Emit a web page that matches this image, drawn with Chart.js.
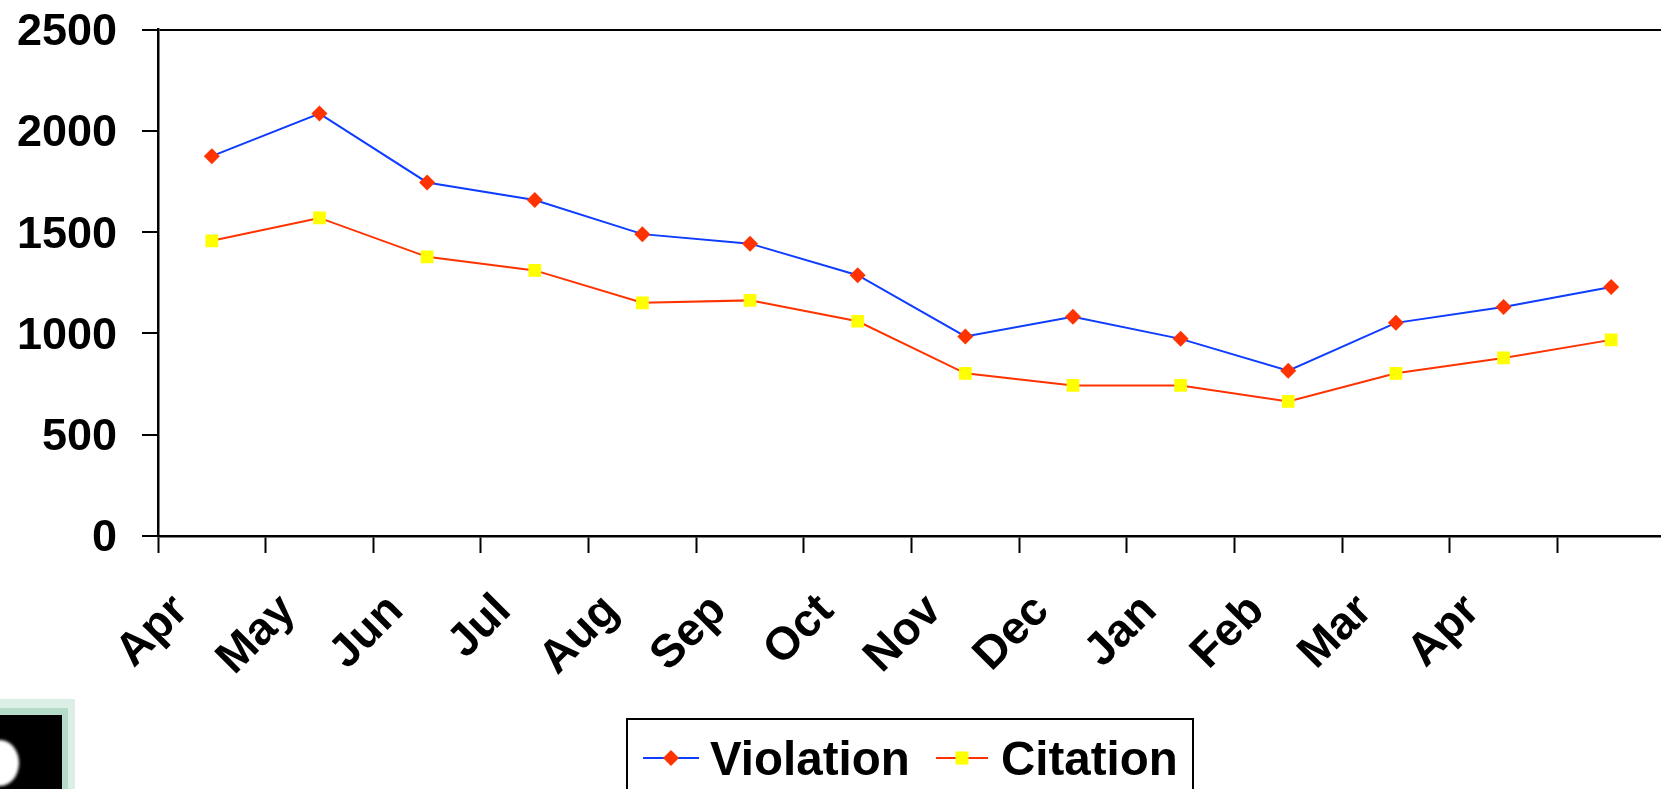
<!DOCTYPE html>
<html>
<head>
<meta charset="utf-8">
<title>Violation and Citation</title>
<script src="https://cdn.jsdelivr.net/npm/chart.js@4"></script>
<style>
	html, body { margin: 0; padding: 0; background: #fff; overflow: hidden; }
	/* the plot runs a little past the right edge of the window */
	#wrap { position: relative; width: 1700px; height: 789px; }
</style>
</head>
<body>
<div id="wrap"><canvas id="dynamic" width="1700" height="789"></canvas></div>
<script>
const labels = ['Apr', 'May', 'Jun', 'Jul', 'Aug', 'Sep', 'Oct', 'Nov', 'Dec', 'Jan', 'Feb', 'Mar', 'Apr', ''];
const violation = [1875, 2085, 1745, 1658, 1490, 1443, 1287, 985, 1082, 973, 816, 1052, 1130, 1229];
const citation = [1457, 1570, 1378, 1311, 1151, 1163, 1060, 803, 743, 743, 664, 803, 879, 968];
const yTicks = [0, 500, 1000, 1500, 2000, 2500];

const FONT = '"Liberation Sans", Arial, sans-serif';
const BLUE = '#0f3dff';
const RED = '#ff3300';
const YELLOW = '#ffff00';

// little logo corner, bottom left of the picture
const logoPlugin = {
	id: 'logo',
	afterDraw(chart) {
		const ctx = chart.ctx;
		ctx.save();
		ctx.fillStyle = '#dcefe6';
		ctx.fillRect(0, 699, 75, 90);
		ctx.fillStyle = '#b4dcc8';
		ctx.fillRect(0, 708, 68, 81);
		ctx.fillStyle = '#000';
		ctx.fillRect(0, 715, 62, 74);
		ctx.beginPath();
		ctx.rect(0, 715, 62, 74);
		ctx.clip();
		ctx.filter = 'blur(1.5px)';
		ctx.fillStyle = '#fff';
		ctx.beginPath();
		ctx.ellipse(0, 763, 19, 23, 0, 0, Math.PI * 2);
		ctx.fill();
		ctx.restore();
	}
};

// boxed legend with line + marker samples, built from the datasets
const legendPlugin = {
	id: 'boxLegend',
	afterDraw(chart) {
		const ctx = chart.ctx;
		const slots = [
			{ x1: 643, x2: 699, text: 710 },
			{ x1: 936, x2: 988, text: 1001 }
		];
		const cy = 758;
		ctx.save();
		ctx.strokeStyle = '#000';
		ctx.lineWidth = 2;
		ctx.strokeRect(627, 719, 566, 100);
		ctx.font = 'bold 47.5px ' + FONT;
		ctx.textBaseline = 'middle';
		chart.data.datasets.forEach((ds, i) => {
			const s = slots[i];
			const mid = (s.x1 + s.x2) / 2;
			ctx.strokeStyle = ds.borderColor;
			ctx.lineWidth = 2;
			ctx.beginPath();
			ctx.moveTo(s.x1, cy);
			ctx.lineTo(s.x2, cy);
			ctx.stroke();
			ctx.fillStyle = ds.pointBackgroundColor;
			if (ds.pointStyle === 'rectRot') {
				ctx.beginPath();
				ctx.moveTo(mid, cy - 8);
				ctx.lineTo(mid + 8, cy);
				ctx.lineTo(mid, cy + 8);
				ctx.lineTo(mid - 8, cy);
				ctx.closePath();
				ctx.fill();
			} else {
				ctx.fillRect(mid - 6.5, cy - 6.5, 13, 13);
			}
			ctx.fillStyle = '#000';
			ctx.fillText(ds.label, s.text, cy + 4);
		});
		ctx.restore();
	}
};

const config_dynamic = {
	type: 'line',
	data: {
		labels: labels,
		datasets: [{
			label: 'Violation',
			data: violation,
			fill: false,
			tension: 0,
			borderColor: BLUE,
			borderWidth: 2,
			pointStyle: 'rectRot',
			pointRadius: 8,
			pointBorderWidth: 0,
			pointBackgroundColor: RED
		}, {
			label: 'Citation',
			data: citation,
			fill: false,
			tension: 0,
			borderColor: RED,
			borderWidth: 2,
			pointStyle: 'rect',
			pointRadius: 9,
			pointBorderWidth: 0,
			pointBackgroundColor: YELLOW
		}]
	},
	plugins: [logoPlugin, legendPlugin],
	options: {
		responsive: false,
		animation: false,
		layout: {
			padding: { top: 29.5, right: 35, bottom: 0, left: 0 }
		},
		plugins: {
			legend: { display: false },
			tooltip: { enabled: false }
		},
		scales: {
			x: {
				offset: true,
				afterFit(scale) {
					scale.height = 253;
					scale.paddingLeft = 0;
					scale.paddingRight = 0;
				},
				border: { color: '#000', width: 2.5 },
				grid: {
					offset: true,
					drawOnChartArea: false,
					tickLength: 17,
					tickColor: '#000',
					tickWidth: 2
				},
				ticks: {
					autoSkip: false,
					minRotation: 45,
					maxRotation: 45,
					padding: 31,
					labelOffset: -31,
					color: '#000',
					font: { family: FONT, weight: 'bold', size: 46 }
				}
			},
			y: {
				min: 0,
				max: 2500,
				afterFit(scale) {
					scale.width = 158;
					scale.paddingTop = 0;
					scale.paddingBottom = 0;
				},
				afterBuildTicks(scale) { scale.ticks = yTicks.map(v => ({ value: v })); },
				border: { color: '#000', width: 2.5 },
				grid: {
					// only the top line crosses the plot
					color: ctx => ctx.tick && ctx.tick.value === 2500 ? '#000' : 'rgba(0,0,0,0)',
					lineWidth: 2,
					tickLength: 16,
					tickColor: '#000',
					tickWidth: 2
				},
				ticks: {
					padding: 25,
					labelOffset: 3,
					color: '#000',
					font: { family: FONT, weight: 'bold', size: 45 },
					callback: value => String(value)
				}
			}
		}
	}
};

const dynamic = new Chart(document.getElementById('dynamic'), config_dynamic);
</script>
</body>
</html>
